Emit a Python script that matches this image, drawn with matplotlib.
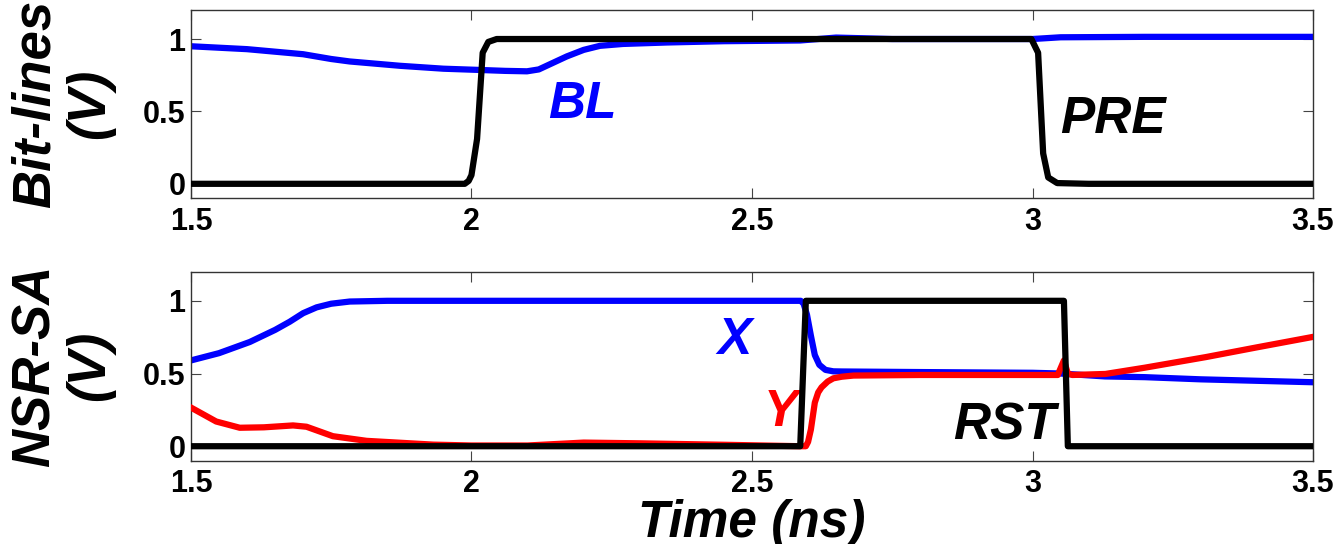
import matplotlib

matplotlib.use("Agg")
import matplotlib.pyplot as plt

plt.rcParams["font.family"] = ["Liberation Sans", "DejaVu Sans"]

# top panel: bit-lines (time in ns, voltage in V)
bl_t = [1.5, 1.6, 1.7, 1.75, 1.783, 1.873, 1.95, 2.01, 2.06, 2.099, 2.12, 2.145,
        2.17, 2.2, 2.229, 2.27, 2.348, 2.45, 2.586, 2.65, 2.75, 2.9, 3.0, 3.05,
        3.2, 3.5]
bl_v = [0.95, 0.93, 0.895, 0.862, 0.845, 0.815, 0.795, 0.787, 0.78, 0.777, 0.79, 0.835,
        0.88, 0.925, 0.953, 0.966, 0.976, 0.985, 0.99, 1.01, 1.0, 1.0, 1.0, 1.012,
        1.015, 1.015]

pre_t = [1.5, 1.988, 1.995, 2.0, 2.01, 2.02, 2.03, 2.045, 2.1, 2.998, 3.01, 3.019,
         3.028, 3.044, 3.1, 3.5]
pre_v = [0.0, 0.0, 0.02, 0.06, 0.31, 0.905, 0.98, 1.0, 1.0, 1.0, 0.905, 0.21,
         0.044, 0.005, 0.0, 0.0]

# bottom panel: NSR-SA internal nodes
x_t = [1.5, 1.55, 1.605, 1.65, 1.676, 1.7, 1.724, 1.75, 1.783, 1.85, 2.587, 2.592,
       2.598, 2.605, 2.612, 2.62, 2.631, 2.645, 2.66, 2.8, 3.0, 3.05, 3.129, 3.2,
       3.3, 3.4, 3.5]
x_v = [0.59, 0.64, 0.717, 0.8, 0.856, 0.915, 0.955, 0.98, 0.995, 1.0, 1.0, 0.98,
       0.905, 0.76, 0.627, 0.56, 0.525, 0.515, 0.514, 0.51, 0.505, 0.5, 0.48, 0.475,
       0.46, 0.45, 0.44]

y_t = [1.5, 1.545, 1.587, 1.63, 1.682, 1.706, 1.753, 1.813, 1.932, 2.0, 2.1, 2.2,
       2.3, 2.45, 2.587, 2.596, 2.6, 2.605, 2.612, 2.618, 2.624, 2.635, 2.645, 2.66,
       2.681, 2.8, 3.0, 3.045, 3.056, 3.063, 3.071, 3.13, 3.2, 3.309, 3.4, 3.5]
y_v = [0.266, 0.17, 0.127, 0.13, 0.143, 0.134, 0.069, 0.037, 0.011, 0.005, 0.005, 0.025,
       0.02, 0.01, 0.0, 0.0, 0.03, 0.115, 0.3, 0.37, 0.405, 0.445, 0.467, 0.478,
       0.486, 0.49, 0.49, 0.49, 0.59, 0.5, 0.49, 0.497, 0.54, 0.613, 0.68, 0.752]

rst_t = [1.5, 2.586, 2.596, 3.056, 3.063, 3.5]
rst_v = [0.0, 0.0, 1.0, 1.0, 0.0, 0.0]

x_ticks = [1.5, 2, 2.5, 3, 3.5]
x_tick_labels = ["1.5", "2", "2.5", "3", "3.5"]
y_ticks = [0, 0.5, 1]
y_tick_labels = ["0", "0.5", "1"]

LW = 4.5
LABEL_FONT = dict(fontsize=37, fontweight="bold", fontstyle="italic")

fig = plt.figure(figsize=(13.39, 5.44), dpi=100)
ax1 = fig.add_axes([0.1426, 0.6355, 0.8380, 0.3460])
ax2 = fig.add_axes([0.1426, 0.1530, 0.8380, 0.3475])

ax1.plot(bl_t, bl_v, color="#0000ff", lw=LW, zorder=2)
ax1.plot(pre_t, pre_v, color="black", lw=LW, zorder=3)
ax1.text(2.136, 0.453, "BL", color="#0000ff", **LABEL_FONT)
ax1.text(3.049, 0.349, "PRE", color="black", **LABEL_FONT)

ax2.plot(x_t, x_v, color="#0000ff", lw=LW, zorder=2)
ax2.plot(y_t, y_v, color="#ff0000", lw=LW, zorder=3)
ax2.plot(rst_t, rst_v, color="black", lw=LW, zorder=4)
ax2.text(2.439, 0.634, "X", color="#0000ff", **LABEL_FONT)
ax2.text(2.52, 0.141, "Y", color="#ff0000", **LABEL_FONT)
ax2.text(2.858, 0.044, "RST", color="black", **LABEL_FONT)

for ax, name in ((ax1, "Bit-lines\n(V)"), (ax2, "NSR-SA\n(V)")):
    ax.set_xlim(1.5, 3.5)
    ax.set_ylim(-0.1, 1.2)
    ax.set_xticks(x_ticks)
    ax.set_xticklabels(x_tick_labels)
    ax.set_yticks(y_ticks)
    ax.set_yticklabels(y_tick_labels)
    ax.tick_params(direction="in", length=7, width=0.8, color="#444444",
                   top=True, right=True, labelsize=22)
    ax.tick_params(axis="x", pad=6)
    ax.tick_params(axis="y", pad=4)
    for lbl in ax.get_xticklabels() + ax.get_yticklabels():
        lbl.set_fontweight("bold")
    for spine in ax.spines.values():
        spine.set_color("#333333")
        spine.set_linewidth(1.0)
    ax.set_ylabel(name, fontsize=38, fontweight="bold", fontstyle="italic",
                  linespacing=1.1)
    ax.yaxis.set_label_coords(-0.068, 0.5)

ax2.set_xlabel("Time (ns)", fontsize=37, fontweight="bold", fontstyle="italic",
               labelpad=0)

fig.savefig("out.png", dpi=100)
